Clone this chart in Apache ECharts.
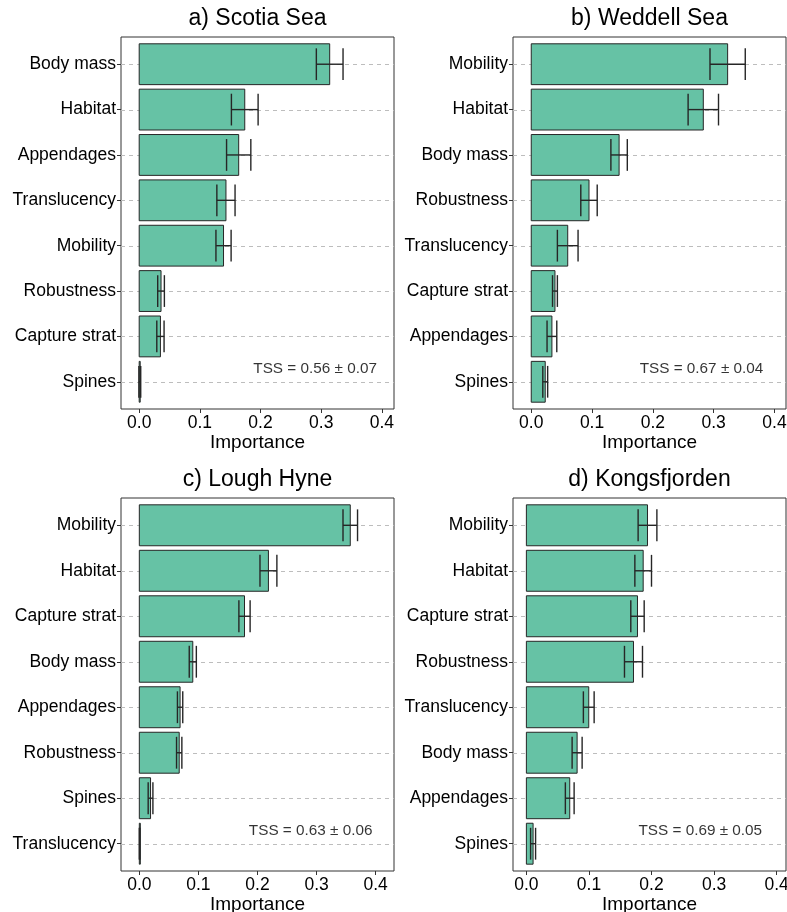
<!DOCTYPE html>
<html>
<head>
<meta charset="utf-8">
<script src="https://cdn.jsdelivr.net/npm/echarts@6/dist/echarts.min.js"></script>
<style>
  html, body { margin: 0; padding: 0; background: #ffffff; }
  #chart { width: 787px; height: 912px; }
</style>
</head>
<body>
<div id="chart"></div>
<script>
// Variable importance (mean ± sd) per trait, four study regions.
// Each panel lists traits from top to bottom.

const titles = ['a) Scotia Sea', 'b) Weddell Sea', 'c) Lough Hyne', 'd) Kongsfjorden'];

const traitsA = ['Body mass', 'Habitat', 'Appendages', 'Translucency', 'Mobility', 'Robustness', 'Capture strat', 'Spines'];
const importanceA = [0.314, 0.174, 0.164, 0.143, 0.139, 0.036, 0.035, 0.001];
const sdA = [0.022, 0.022, 0.020, 0.015, 0.0125, 0.0055, 0.006, 0.0015];

const traitsB = ['Mobility', 'Habitat', 'Body mass', 'Robustness', 'Translucency', 'Capture strat', 'Appendages', 'Spines'];
const importanceB = [0.323, 0.283, 0.1445, 0.095, 0.060, 0.039, 0.034, 0.023];
const sdB = [0.029, 0.025, 0.0135, 0.0135, 0.017, 0.004, 0.008, 0.004];

const traitsC = ['Mobility', 'Habitat', 'Capture strat', 'Body mass', 'Appendages', 'Robustness', 'Spines', 'Translucency'];
const importanceC = [0.357, 0.2185, 0.178, 0.0905, 0.069, 0.0675, 0.019, 0.0005];
const sdC = [0.0123, 0.0143, 0.0095, 0.006, 0.0045, 0.0045, 0.004, 0.0005];

const traitsD = ['Mobility', 'Habitat', 'Capture strat', 'Robustness', 'Translucency', 'Body mass', 'Appendages', 'Spines'];
const importanceD = [0.1936, 0.1867, 0.1776, 0.1712, 0.0997, 0.0811, 0.0693, 0.0107];
const sdD = [0.015, 0.0133, 0.0107, 0.0144, 0.0086, 0.008, 0.007, 0.004];

const tssMean = [0.56, 0.67, 0.63, 0.69];
const tssSd = [0.07, 0.04, 0.06, 0.05];

const xTicks = [0, 0.1, 0.2, 0.3, 0.4];

const panels = [
  { traits: traitsA, imp: importanceA, sd: sdA },
  { traits: traitsB, imp: importanceB, sd: sdB },
  { traits: traitsC, imp: importanceC, sd: sdC },
  { traits: traitsD, imp: importanceD, sd: sdD }
];

// Layout of each panel box and its value range
const grids = [
  { left: 121, top: 37, width: 273, height: 372 },
  { left: 513, top: 37, width: 273, height: 372 },
  { left: 121, top: 498, width: 273, height: 373 },
  { left: 513, top: 498, width: 273, height: 373 }
];
const xRanges = [[-0.030, 0.420], [-0.030, 0.419], [-0.031, 0.431], [-0.0214, 0.415]];
const tssPos = [[0.29, 6.72], [0.28, 6.72], [0.29, 6.71], [0.278, 6.71]];

const FONT = 'Liberation Sans, Arial, sans-serif';
const FILL = '#66c2a5';
const INK = '#262626';

function renderBar(params, api) {
  const v = api.value(0);
  const row = api.value(1);
  const p0 = api.coord([0, row]);
  const p1 = api.coord([v, row]);
  const h = Math.abs(api.size([0, 0.9])[1]);
  return {
    type: 'rect',
    shape: { x: p0[0], y: p0[1] - h / 2, width: Math.max(p1[0] - p0[0], 1), height: h },
    style: { fill: FILL, stroke: INK, lineWidth: 1 }
  };
}

function renderErr(params, api) {
  const v = api.value(0);
  const row = api.value(1);
  const s = api.value(2);
  const lo = api.coord([v - s, row]);
  const hi = api.coord([v + s, row]);
  const hh = Math.abs(api.size([0, 0.7])[1]) / 2;
  const style = { stroke: INK, lineWidth: 1.4 };
  return {
    type: 'group',
    children: [
      { type: 'line', shape: { x1: lo[0], y1: lo[1], x2: hi[0], y2: hi[1] }, style },
      { type: 'line', shape: { x1: lo[0], y1: lo[1] - hh, x2: lo[0], y2: lo[1] + hh }, style },
      { type: 'line', shape: { x1: hi[0], y1: hi[1] - hh, x2: hi[0], y2: hi[1] + hh }, style }
    ]
  };
}

// Dashed guide line across the whole panel at each trait row
function makeGuide(range) {
  return function (params, api) {
    const row = api.value(0);
    const a = api.coord([range[0], row]);
    const b = api.coord([range[1], row]);
    const y = Math.round(a[1]) + 0.5;
    return {
      type: 'line',
      shape: { x1: a[0], y1: y, x2: b[0], y2: y },
      style: { stroke: '#bdbdbd', lineWidth: 1, lineDash: [4, 4] }
    };
  };
}

const option = {
  backgroundColor: '#ffffff',
  animation: false,
  textStyle: { fontFamily: FONT },
  grid: [],
  xAxis: [],
  yAxis: [],
  series: [],
  graphic: []
};

panels.forEach((p, i) => {
  const g = grids[i];
  option.grid.push({
    left: g.left, top: g.top, width: g.width, height: g.height,
    show: true, borderColor: '#333333', borderWidth: 1, backgroundColor: 'transparent',
    containLabel: false, outerBoundsMode: 'none'
  });
  option.xAxis.push({
    type: 'value', gridIndex: i, position: 'bottom',
    min: xRanges[i][0], max: xRanges[i][1],
    axisLine: { show: false, onZero: false },
    axisTick: { show: true, customValues: xTicks, length: 4, lineStyle: { color: '#333333' } },
    axisLabel: {
      customValues: xTicks, color: '#000000', fontSize: 17.5, margin: 5,
      formatter: (v) => v.toFixed(1)
    },
    splitLine: { show: false },
    name: 'Importance', nameLocation: 'middle', nameGap: 23,
    nameTextStyle: { color: '#000000', fontSize: 19 }
  });
  const rows = p.traits.map((_, k) => k);
  option.yAxis.push({
    type: 'value', gridIndex: i, inverse: true, position: 'left',
    min: -0.6, max: 7.6,
    axisLine: { show: false, onZero: false },
    axisTick: { show: true, customValues: rows, length: 4, lineStyle: { color: '#333333' } },
    axisLabel: {
      customValues: rows, color: '#000000', fontSize: 17.5, margin: 5,
      formatter: (v) => p.traits[Math.round(v)]
    },
    splitLine: { show: false }
  });

  option.series.push({
    type: 'custom', xAxisIndex: i, yAxisIndex: i,
    renderItem: makeGuide(xRanges[i]), data: rows.map((r) => [r]), z: 1, silent: true,
    encode: { y: 0 }
  });

  const data = p.imp.map((v, k) => [v, k, p.sd[k]]);
  option.series.push({
    type: 'custom', xAxisIndex: i, yAxisIndex: i,
    renderItem: renderBar, data: data, z: 2,
    encode: { x: 0, y: 1 }
  });
  option.series.push({
    type: 'custom', xAxisIndex: i, yAxisIndex: i,
    renderItem: renderErr, data: data, z: 3,
    encode: { x: 0, y: 1 }
  });
  option.series.push({
    type: 'scatter', xAxisIndex: i, yAxisIndex: i,
    symbolSize: 0, silent: true, z: 4,
    data: [tssPos[i]],
    label: {
      show: true, position: 'inside', color: '#000000', fontSize: 15.3,
      formatter: () => 'TSS = ' + tssMean[i].toFixed(2) + ' ± ' + tssSd[i].toFixed(2)
    }
  });

  option.graphic.push({
    type: 'text',
    x: g.left + g.width / 2,
    y: g.top - 18,
    style: {
      text: titles[i], fill: '#000000', font: '23px ' + FONT,
      align: 'center', verticalAlign: 'middle'
    }
  });
});

const chart = echarts.init(document.getElementById('chart'), null, { renderer: 'canvas' });
chart.setOption(option);
</script>
</body>
</html>
